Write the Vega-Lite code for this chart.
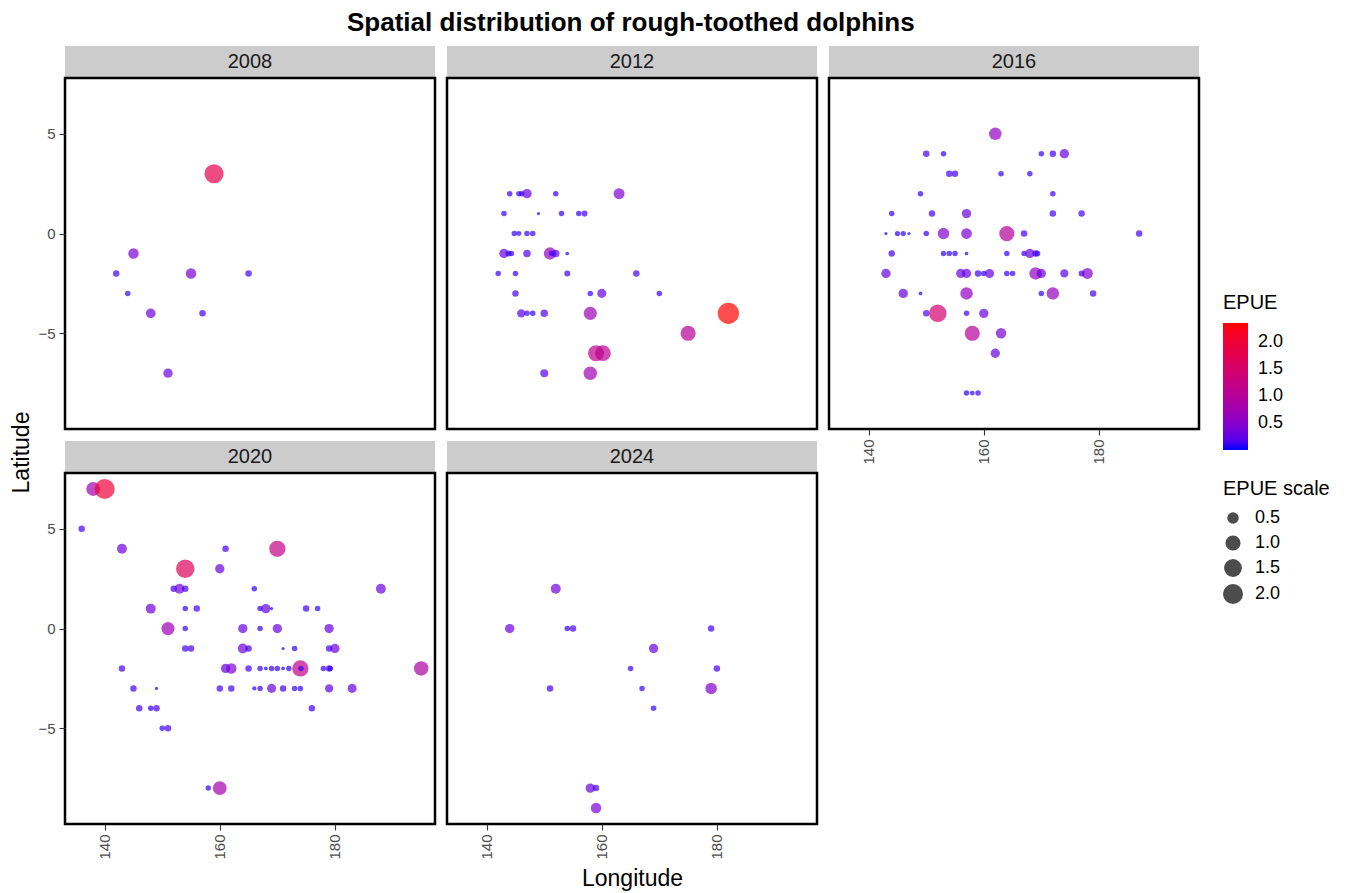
{
  "$schema": "https://vega.github.io/schema/vega-lite/v6.json",
  "padding": {"left": 9, "top": 10, "right": 5, "bottom": 5},
  "background": "white",
  "title": {"text": "Spatial distribution of rough-toothed dolphins", "fontSize": 26, "fontWeight": "bold", "anchor": "middle", "color": "black", "offset": 10, "dx": -39},
  "config": {
    "font": "Liberation Sans",
    "axis": {"domain": false, "grid": false, "tickSize": 6, "tickColor": "#333333", "tickWidth": 1.1, "labelFontSize": 15, "labelColor": "#4D4D4D", "labelPadding": 4, "titleFontSize": 23, "titleFontWeight": "normal", "titleColor": "black"},
    "legend": {"titleFontSize": 20, "titleFontWeight": "normal", "titleColor": "black", "labelFontSize": 18, "labelColor": "black"}
  },
  "datasets": {
    "strips": [{"year": "2008"}, {"year": "2012"}, {"year": "2016"}, {"year": "2020"}, {"year": "2024"}],
    "points": [
      {"year": "2008", "lon": 159, "lat": 3, "EPUE": 1.8},
      {"year": "2008", "lon": 145, "lat": -1, "EPUE": 0.4},
      {"year": "2008", "lon": 142, "lat": -2, "EPUE": 0.12},
      {"year": "2008", "lon": 155, "lat": -2, "EPUE": 0.4},
      {"year": "2008", "lon": 165, "lat": -2, "EPUE": 0.12},
      {"year": "2008", "lon": 144, "lat": -3, "EPUE": 0.08},
      {"year": "2008", "lon": 148, "lat": -4, "EPUE": 0.33},
      {"year": "2008", "lon": 157, "lat": -4, "EPUE": 0.12},
      {"year": "2008", "lon": 151, "lat": -7, "EPUE": 0.3},

      {"year": "2012", "lon": 144, "lat": 2, "EPUE": 0.08},
      {"year": "2012", "lon": 145.6, "lat": 2, "EPUE": 0.08},
      {"year": "2012", "lon": 146.1, "lat": 2, "EPUE": 0.08},
      {"year": "2012", "lon": 147, "lat": 2, "EPUE": 0.3},
      {"year": "2012", "lon": 152, "lat": 2, "EPUE": 0.08},
      {"year": "2012", "lon": 163, "lat": 2, "EPUE": 0.45},
      {"year": "2012", "lon": 143, "lat": 1, "EPUE": 0.08},
      {"year": "2012", "lon": 149, "lat": 1, "EPUE": 0.02},
      {"year": "2012", "lon": 153, "lat": 1, "EPUE": 0.08},
      {"year": "2012", "lon": 156, "lat": 1, "EPUE": 0.08},
      {"year": "2012", "lon": 157, "lat": 1, "EPUE": 0.1},
      {"year": "2012", "lon": 144.8, "lat": 0, "EPUE": 0.08},
      {"year": "2012", "lon": 145.6, "lat": 0, "EPUE": 0.06},
      {"year": "2012", "lon": 147, "lat": 0, "EPUE": 0.08},
      {"year": "2012", "lon": 148, "lat": 0, "EPUE": 0.08},
      {"year": "2012", "lon": 143, "lat": -1, "EPUE": 0.3},
      {"year": "2012", "lon": 143.8, "lat": -1, "EPUE": 0.1},
      {"year": "2012", "lon": 144.3, "lat": -1, "EPUE": 0.08},
      {"year": "2012", "lon": 147, "lat": -1, "EPUE": 0.17},
      {"year": "2012", "lon": 151, "lat": -1, "EPUE": 0.6},
      {"year": "2012", "lon": 151.3, "lat": -1, "EPUE": 0.08},
      {"year": "2012", "lon": 152, "lat": -1, "EPUE": 0.17},
      {"year": "2012", "lon": 154, "lat": -1, "EPUE": 0.03},
      {"year": "2012", "lon": 142, "lat": -2, "EPUE": 0.08},
      {"year": "2012", "lon": 145, "lat": -2, "EPUE": 0.08},
      {"year": "2012", "lon": 154, "lat": -2, "EPUE": 0.1},
      {"year": "2012", "lon": 166, "lat": -2, "EPUE": 0.12},
      {"year": "2012", "lon": 145, "lat": -3, "EPUE": 0.12},
      {"year": "2012", "lon": 158, "lat": -3, "EPUE": 0.08},
      {"year": "2012", "lon": 160, "lat": -3, "EPUE": 0.28},
      {"year": "2012", "lon": 170, "lat": -3, "EPUE": 0.08},
      {"year": "2012", "lon": 146, "lat": -4, "EPUE": 0.22},
      {"year": "2012", "lon": 147, "lat": -4, "EPUE": 0.08},
      {"year": "2012", "lon": 148, "lat": -4, "EPUE": 0.08},
      {"year": "2012", "lon": 150, "lat": -4, "EPUE": 0.17},
      {"year": "2012", "lon": 158, "lat": -4, "EPUE": 0.7},
      {"year": "2012", "lon": 182, "lat": -4, "EPUE": 2.34},
      {"year": "2012", "lon": 175, "lat": -5, "EPUE": 1.0},
      {"year": "2012", "lon": 159, "lat": -6, "EPUE": 1.15},
      {"year": "2012", "lon": 160.2, "lat": -6, "EPUE": 1.1},
      {"year": "2012", "lon": 150, "lat": -7, "EPUE": 0.2},
      {"year": "2012", "lon": 158, "lat": -7, "EPUE": 0.75},

      {"year": "2016", "lon": 162, "lat": 5, "EPUE": 0.62},
      {"year": "2016", "lon": 150, "lat": 4, "EPUE": 0.12},
      {"year": "2016", "lon": 153, "lat": 4, "EPUE": 0.08},
      {"year": "2016", "lon": 170, "lat": 4, "EPUE": 0.08},
      {"year": "2016", "lon": 172, "lat": 4, "EPUE": 0.12},
      {"year": "2016", "lon": 174, "lat": 4, "EPUE": 0.3},
      {"year": "2016", "lon": 154, "lat": 3, "EPUE": 0.12},
      {"year": "2016", "lon": 155, "lat": 3, "EPUE": 0.12},
      {"year": "2016", "lon": 163, "lat": 3, "EPUE": 0.08},
      {"year": "2016", "lon": 168, "lat": 3, "EPUE": 0.08},
      {"year": "2016", "lon": 149, "lat": 2, "EPUE": 0.08},
      {"year": "2016", "lon": 172, "lat": 2, "EPUE": 0.08},
      {"year": "2016", "lon": 144, "lat": 1, "EPUE": 0.08},
      {"year": "2016", "lon": 151, "lat": 1, "EPUE": 0.12},
      {"year": "2016", "lon": 157, "lat": 1, "EPUE": 0.3},
      {"year": "2016", "lon": 172, "lat": 1, "EPUE": 0.12},
      {"year": "2016", "lon": 177, "lat": 1, "EPUE": 0.12},
      {"year": "2016", "lon": 143, "lat": 0, "EPUE": 0.02},
      {"year": "2016", "lon": 145, "lat": 0, "EPUE": 0.07},
      {"year": "2016", "lon": 146, "lat": 0, "EPUE": 0.07},
      {"year": "2016", "lon": 147, "lat": 0, "EPUE": 0.02},
      {"year": "2016", "lon": 150, "lat": 0, "EPUE": 0.08},
      {"year": "2016", "lon": 153, "lat": 0, "EPUE": 0.5},
      {"year": "2016", "lon": 157, "lat": 0, "EPUE": 0.42},
      {"year": "2016", "lon": 164, "lat": 0, "EPUE": 1.0},
      {"year": "2016", "lon": 167, "lat": 0, "EPUE": 0.12},
      {"year": "2016", "lon": 187, "lat": 0, "EPUE": 0.12},
      {"year": "2016", "lon": 144, "lat": -1, "EPUE": 0.12},
      {"year": "2016", "lon": 153, "lat": -1, "EPUE": 0.08},
      {"year": "2016", "lon": 154, "lat": -1, "EPUE": 0.08},
      {"year": "2016", "lon": 155, "lat": -1, "EPUE": 0.08},
      {"year": "2016", "lon": 157, "lat": -1, "EPUE": 0.03},
      {"year": "2016", "lon": 164, "lat": -1, "EPUE": 0.08},
      {"year": "2016", "lon": 167, "lat": -1, "EPUE": 0.08},
      {"year": "2016", "lon": 168, "lat": -1, "EPUE": 0.3},
      {"year": "2016", "lon": 169, "lat": -1, "EPUE": 0.12},
      {"year": "2016", "lon": 169.3, "lat": -1, "EPUE": 0.1},
      {"year": "2016", "lon": 143, "lat": -2, "EPUE": 0.3},
      {"year": "2016", "lon": 156, "lat": -2, "EPUE": 0.3},
      {"year": "2016", "lon": 157, "lat": -2, "EPUE": 0.3},
      {"year": "2016", "lon": 159, "lat": -2, "EPUE": 0.12},
      {"year": "2016", "lon": 160, "lat": -2, "EPUE": 0.08},
      {"year": "2016", "lon": 161, "lat": -2, "EPUE": 0.28},
      {"year": "2016", "lon": 164, "lat": -2, "EPUE": 0.08},
      {"year": "2016", "lon": 165, "lat": -2, "EPUE": 0.08},
      {"year": "2016", "lon": 169, "lat": -2, "EPUE": 0.62},
      {"year": "2016", "lon": 170, "lat": -2, "EPUE": 0.3},
      {"year": "2016", "lon": 174, "lat": -2, "EPUE": 0.22},
      {"year": "2016", "lon": 177, "lat": -2, "EPUE": 0.1},
      {"year": "2016", "lon": 178, "lat": -2, "EPUE": 0.45},
      {"year": "2016", "lon": 146, "lat": -3, "EPUE": 0.3},
      {"year": "2016", "lon": 149, "lat": -3, "EPUE": 0.03},
      {"year": "2016", "lon": 157, "lat": -3, "EPUE": 0.62},
      {"year": "2016", "lon": 170, "lat": -3, "EPUE": 0.08},
      {"year": "2016", "lon": 172, "lat": -3, "EPUE": 0.62},
      {"year": "2016", "lon": 179, "lat": -3, "EPUE": 0.12},
      {"year": "2016", "lon": 150, "lat": -4, "EPUE": 0.12},
      {"year": "2016", "lon": 152, "lat": -4, "EPUE": 1.45},
      {"year": "2016", "lon": 157, "lat": -4, "EPUE": 0.08},
      {"year": "2016", "lon": 160, "lat": -4, "EPUE": 0.3},
      {"year": "2016", "lon": 158, "lat": -5, "EPUE": 1.0},
      {"year": "2016", "lon": 163, "lat": -5, "EPUE": 0.4},
      {"year": "2016", "lon": 162, "lat": -6, "EPUE": 0.3},
      {"year": "2016", "lon": 157, "lat": -8, "EPUE": 0.08},
      {"year": "2016", "lon": 158, "lat": -8, "EPUE": 0.06},
      {"year": "2016", "lon": 159, "lat": -8, "EPUE": 0.08},

      {"year": "2020", "lon": 138, "lat": 7, "EPUE": 0.8},
      {"year": "2020", "lon": 140, "lat": 7, "EPUE": 2.0},
      {"year": "2020", "lon": 136, "lat": 5, "EPUE": 0.12},
      {"year": "2020", "lon": 143, "lat": 4, "EPUE": 0.35},
      {"year": "2020", "lon": 161, "lat": 4, "EPUE": 0.12},
      {"year": "2020", "lon": 170, "lat": 4, "EPUE": 1.2},
      {"year": "2020", "lon": 154, "lat": 3, "EPUE": 1.65},
      {"year": "2020", "lon": 160, "lat": 3, "EPUE": 0.3},
      {"year": "2020", "lon": 152, "lat": 2, "EPUE": 0.12},
      {"year": "2020", "lon": 153, "lat": 2, "EPUE": 0.35},
      {"year": "2020", "lon": 154, "lat": 2, "EPUE": 0.12},
      {"year": "2020", "lon": 166, "lat": 2, "EPUE": 0.08},
      {"year": "2020", "lon": 188, "lat": 2, "EPUE": 0.35},
      {"year": "2020", "lon": 148, "lat": 1, "EPUE": 0.35},
      {"year": "2020", "lon": 154, "lat": 1, "EPUE": 0.08},
      {"year": "2020", "lon": 156, "lat": 1, "EPUE": 0.12},
      {"year": "2020", "lon": 167, "lat": 1, "EPUE": 0.08},
      {"year": "2020", "lon": 168, "lat": 1, "EPUE": 0.3},
      {"year": "2020", "lon": 169, "lat": 1, "EPUE": 0.02},
      {"year": "2020", "lon": 175, "lat": 1, "EPUE": 0.12},
      {"year": "2020", "lon": 177, "lat": 1, "EPUE": 0.08},
      {"year": "2020", "lon": 151, "lat": 0, "EPUE": 0.7},
      {"year": "2020", "lon": 154, "lat": 0, "EPUE": 0.08},
      {"year": "2020", "lon": 164, "lat": 0, "EPUE": 0.3},
      {"year": "2020", "lon": 167, "lat": 0, "EPUE": 0.08},
      {"year": "2020", "lon": 170, "lat": 0, "EPUE": 0.3},
      {"year": "2020", "lon": 179, "lat": 0, "EPUE": 0.3},
      {"year": "2020", "lon": 154, "lat": -1, "EPUE": 0.12},
      {"year": "2020", "lon": 155, "lat": -1, "EPUE": 0.12},
      {"year": "2020", "lon": 164, "lat": -1, "EPUE": 0.35},
      {"year": "2020", "lon": 165, "lat": -1, "EPUE": 0.12},
      {"year": "2020", "lon": 171, "lat": -1, "EPUE": 0.02},
      {"year": "2020", "lon": 173, "lat": -1, "EPUE": 0.08},
      {"year": "2020", "lon": 179, "lat": -1, "EPUE": 0.12},
      {"year": "2020", "lon": 180, "lat": -1, "EPUE": 0.3},
      {"year": "2020", "lon": 143, "lat": -2, "EPUE": 0.12},
      {"year": "2020", "lon": 161, "lat": -2, "EPUE": 0.3},
      {"year": "2020", "lon": 162, "lat": -2, "EPUE": 0.4},
      {"year": "2020", "lon": 165, "lat": -2, "EPUE": 0.12},
      {"year": "2020", "lon": 167, "lat": -2, "EPUE": 0.08},
      {"year": "2020", "lon": 168, "lat": -2, "EPUE": 0.03},
      {"year": "2020", "lon": 169, "lat": -2, "EPUE": 0.08},
      {"year": "2020", "lon": 170, "lat": -2, "EPUE": 0.08},
      {"year": "2020", "lon": 171, "lat": -2, "EPUE": 0.03},
      {"year": "2020", "lon": 172, "lat": -2, "EPUE": 0.08},
      {"year": "2020", "lon": 174, "lat": -2, "EPUE": 1.2},
      {"year": "2020", "lon": 174.1, "lat": -2, "EPUE": 0.08},
      {"year": "2020", "lon": 178, "lat": -2, "EPUE": 0.08},
      {"year": "2020", "lon": 179, "lat": -2, "EPUE": 0.12},
      {"year": "2020", "lon": 179.2, "lat": -2, "EPUE": 0.08},
      {"year": "2020", "lon": 195, "lat": -2, "EPUE": 0.9},
      {"year": "2020", "lon": 145, "lat": -3, "EPUE": 0.12},
      {"year": "2020", "lon": 149, "lat": -3, "EPUE": 0.02},
      {"year": "2020", "lon": 160, "lat": -3, "EPUE": 0.12},
      {"year": "2020", "lon": 162, "lat": -3, "EPUE": 0.12},
      {"year": "2020", "lon": 166, "lat": -3, "EPUE": 0.04},
      {"year": "2020", "lon": 167, "lat": -3, "EPUE": 0.08},
      {"year": "2020", "lon": 169, "lat": -3, "EPUE": 0.28},
      {"year": "2020", "lon": 171, "lat": -3, "EPUE": 0.12},
      {"year": "2020", "lon": 173, "lat": -3, "EPUE": 0.08},
      {"year": "2020", "lon": 174, "lat": -3, "EPUE": 0.08},
      {"year": "2020", "lon": 179, "lat": -3, "EPUE": 0.22},
      {"year": "2020", "lon": 183, "lat": -3, "EPUE": 0.28},
      {"year": "2020", "lon": 146, "lat": -4, "EPUE": 0.12},
      {"year": "2020", "lon": 148, "lat": -4, "EPUE": 0.08},
      {"year": "2020", "lon": 149, "lat": -4, "EPUE": 0.12},
      {"year": "2020", "lon": 176, "lat": -4, "EPUE": 0.12},
      {"year": "2020", "lon": 150, "lat": -5, "EPUE": 0.08},
      {"year": "2020", "lon": 151, "lat": -5, "EPUE": 0.12},
      {"year": "2020", "lon": 158, "lat": -8, "EPUE": 0.08},
      {"year": "2020", "lon": 160, "lat": -8, "EPUE": 0.8},

      {"year": "2024", "lon": 152, "lat": 2, "EPUE": 0.35},
      {"year": "2024", "lon": 144, "lat": 0, "EPUE": 0.3},
      {"year": "2024", "lon": 154, "lat": 0, "EPUE": 0.08},
      {"year": "2024", "lon": 155, "lat": 0, "EPUE": 0.12},
      {"year": "2024", "lon": 179, "lat": 0, "EPUE": 0.12},
      {"year": "2024", "lon": 169, "lat": -1, "EPUE": 0.3},
      {"year": "2024", "lon": 165, "lat": -2, "EPUE": 0.08},
      {"year": "2024", "lon": 180, "lat": -2, "EPUE": 0.12},
      {"year": "2024", "lon": 151, "lat": -3, "EPUE": 0.12},
      {"year": "2024", "lon": 167, "lat": -3, "EPUE": 0.08},
      {"year": "2024", "lon": 179, "lat": -3, "EPUE": 0.5},
      {"year": "2024", "lon": 169, "lat": -4, "EPUE": 0.08},
      {"year": "2024", "lon": 158, "lat": -8, "EPUE": 0.3},
      {"year": "2024", "lon": 159, "lat": -8, "EPUE": 0.12},
      {"year": "2024", "lon": 159, "lat": -9, "EPUE": 0.4}
    ]
  },
  "columns": 3,
  "spacing": {"row": 0, "column": 12},
  "bounds": "flush",
  "align": "each",
  "resolve": {"scale": {"color": "shared", "size": "shared"}, "legend": {"color": "shared", "size": "shared"}},
  "concat": [
    {"data": {"name": "strips"}, "transform": [{"filter": "datum.year === '2008'"}], "width": 370, "height": 32, "view": {"fill": "#CCCCCC", "stroke": null}, "mark": {"type": "text", "fontSize": 20, "color": "#1A1A1A"}, "encoding": {"text": {"field": "year"}}},
    {"data": {"name": "strips"}, "transform": [{"filter": "datum.year === '2012'"}], "width": 370, "height": 32, "view": {"fill": "#CCCCCC", "stroke": null}, "mark": {"type": "text", "fontSize": 20, "color": "#1A1A1A"}, "encoding": {"text": {"field": "year"}}},
    {"data": {"name": "strips"}, "transform": [{"filter": "datum.year === '2016'"}], "width": 370, "height": 32, "view": {"fill": "#CCCCCC", "stroke": null}, "mark": {"type": "text", "fontSize": 20, "color": "#1A1A1A"}, "encoding": {"text": {"field": "year"}}},

    {"data": {"name": "points"}, "transform": [{"filter": "datum.year === '2008'"}], "width": 370, "height": 351, "view": {"stroke": "black", "strokeWidth": 2.5, "fill": "white"},
     "mark": {"type": "circle", "fillOpacity": 0.7},
     "encoding": {
       "x": {"field": "lon", "type": "quantitative", "scale": {"domain": [133.1, 197.4], "nice": false, "zero": false}, "axis": null},
       "y": {"field": "lat", "type": "quantitative", "scale": {"domain": [-9.8, 7.8], "nice": false, "zero": false}, "axis": {"values": [-5, 0, 5], "title": "Latitude", "titleY": 374, "titlePadding": 4}},
       "color": {"field": "EPUE", "type": "quantitative", "scale": {"domain": [0.01, 2.34], "range": ["#0000FF", "#FF0000"], "interpolate": "lab"}, "legend": {"title": "EPUE", "orient": "none", "direction": "vertical", "legendX": 1158, "legendY": 247, "gradientLength": 127, "gradientThickness": 25, "values": [0.5, 1, 1.5, 2], "format": ".1f", "labelOffset": 10, "titlePadding": 10}},
       "size": {"field": "EPUE", "type": "quantitative", "scale": {"type": "pow", "exponent": 0.8, "domain": [0, 2.5], "range": [0, 478]}, "legend": {"title": "EPUE scale", "orient": "none", "legendX": 1158, "legendY": 433, "values": [0.5, 1, 1.5, 2], "format": ".1f", "symbolFillColor": "black", "symbolOpacity": 0.7, "symbolStrokeWidth": 0, "symbolType": "circle", "rowPadding": 7, "labelOffset": 12, "titlePadding": 10}}
     }},
    {"data": {"name": "points"}, "transform": [{"filter": "datum.year === '2012'"}], "width": 370, "height": 351, "view": {"stroke": "black", "strokeWidth": 2.5, "fill": "white"},
     "mark": {"type": "circle", "fillOpacity": 0.7},
     "encoding": {
       "x": {"field": "lon", "type": "quantitative", "scale": {"domain": [133.1, 197.4], "nice": false, "zero": false}, "axis": null},
       "y": {"field": "lat", "type": "quantitative", "scale": {"domain": [-9.8, 7.8], "nice": false, "zero": false}, "axis": null},
       "color": {"field": "EPUE", "type": "quantitative", "scale": {"domain": [0.01, 2.34], "range": ["#0000FF", "#FF0000"], "interpolate": "lab"}, "legend": {"title": "EPUE", "orient": "none", "direction": "vertical", "legendX": 1158, "legendY": 247, "gradientLength": 127, "gradientThickness": 25, "values": [0.5, 1, 1.5, 2], "format": ".1f", "labelOffset": 10, "titlePadding": 10}},
       "size": {"field": "EPUE", "type": "quantitative", "scale": {"type": "pow", "exponent": 0.8, "domain": [0, 2.5], "range": [0, 478]}, "legend": {"title": "EPUE scale", "orient": "none", "legendX": 1158, "legendY": 433, "values": [0.5, 1, 1.5, 2], "format": ".1f", "symbolFillColor": "black", "symbolOpacity": 0.7, "symbolStrokeWidth": 0, "symbolType": "circle", "rowPadding": 7, "labelOffset": 12, "titlePadding": 10}}
     }},
    {"data": {"name": "points"}, "transform": [{"filter": "datum.year === '2016'"}], "width": 370, "height": 351, "view": {"stroke": "black", "strokeWidth": 2.5, "fill": "white"},
     "mark": {"type": "circle", "fillOpacity": 0.7},
     "encoding": {
       "x": {"field": "lon", "type": "quantitative", "scale": {"domain": [133.1, 197.4], "nice": false, "zero": false}, "axis": {"values": [140, 160, 180], "labelAngle": -90, "title": null}},
       "y": {"field": "lat", "type": "quantitative", "scale": {"domain": [-9.8, 7.8], "nice": false, "zero": false}, "axis": null},
       "color": {"field": "EPUE", "type": "quantitative", "scale": {"domain": [0.01, 2.34], "range": ["#0000FF", "#FF0000"], "interpolate": "lab"}, "legend": {"title": "EPUE", "orient": "none", "direction": "vertical", "legendX": 1158, "legendY": 247, "gradientLength": 127, "gradientThickness": 25, "values": [0.5, 1, 1.5, 2], "format": ".1f", "labelOffset": 10, "titlePadding": 10}},
       "size": {"field": "EPUE", "type": "quantitative", "scale": {"type": "pow", "exponent": 0.8, "domain": [0, 2.5], "range": [0, 478]}, "legend": {"title": "EPUE scale", "orient": "none", "legendX": 1158, "legendY": 433, "values": [0.5, 1, 1.5, 2], "format": ".1f", "symbolFillColor": "black", "symbolOpacity": 0.7, "symbolStrokeWidth": 0, "symbolType": "circle", "rowPadding": 7, "labelOffset": 12, "titlePadding": 10}}
     }},

    {"data": {"name": "strips"}, "transform": [{"filter": "false"}], "width": 370, "height": 12, "view": {"stroke": null}, "mark": "point", "encoding": {}},
    {"data": {"name": "strips"}, "transform": [{"filter": "false"}], "width": 370, "height": 12, "view": {"stroke": null}, "mark": "point", "encoding": {}},
    {"data": {"name": "strips"}, "transform": [{"filter": "false"}], "width": 370, "height": 12, "view": {"stroke": null}, "mark": "point", "encoding": {}},

    {"data": {"name": "strips"}, "transform": [{"filter": "datum.year === '2020'"}], "width": 370, "height": 32, "view": {"fill": "#CCCCCC", "stroke": null}, "mark": {"type": "text", "fontSize": 20, "color": "#1A1A1A"}, "encoding": {"text": {"field": "year"}}},
    {"data": {"name": "strips"}, "transform": [{"filter": "datum.year === '2024'"}], "width": 370, "height": 32, "view": {"fill": "#CCCCCC", "stroke": null}, "mark": {"type": "text", "fontSize": 20, "color": "#1A1A1A"}, "encoding": {"text": {"field": "year"}}},
    {"data": {"name": "strips"}, "transform": [{"filter": "false"}], "width": 370, "height": 32, "view": {"stroke": null}, "mark": "point", "encoding": {}},

    {"data": {"name": "points"}, "transform": [{"filter": "datum.year === '2020'"}], "width": 370, "height": 351, "view": {"stroke": "black", "strokeWidth": 2.5, "fill": "white"},
     "mark": {"type": "circle", "fillOpacity": 0.7},
     "encoding": {
       "x": {"field": "lon", "type": "quantitative", "scale": {"domain": [133.1, 197.4], "nice": false, "zero": false}, "axis": {"values": [140, 160, 180], "labelAngle": -90, "title": null}},
       "y": {"field": "lat", "type": "quantitative", "scale": {"domain": [-9.8, 7.8], "nice": false, "zero": false}, "axis": {"values": [-5, 0, 5], "title": null}},
       "color": {"field": "EPUE", "type": "quantitative", "scale": {"domain": [0.01, 2.34], "range": ["#0000FF", "#FF0000"], "interpolate": "lab"}, "legend": {"title": "EPUE", "orient": "none", "direction": "vertical", "legendX": 1158, "legendY": 247, "gradientLength": 127, "gradientThickness": 25, "values": [0.5, 1, 1.5, 2], "format": ".1f", "labelOffset": 10, "titlePadding": 10}},
       "size": {"field": "EPUE", "type": "quantitative", "scale": {"type": "pow", "exponent": 0.8, "domain": [0, 2.5], "range": [0, 478]}, "legend": {"title": "EPUE scale", "orient": "none", "legendX": 1158, "legendY": 433, "values": [0.5, 1, 1.5, 2], "format": ".1f", "symbolFillColor": "black", "symbolOpacity": 0.7, "symbolStrokeWidth": 0, "symbolType": "circle", "rowPadding": 7, "labelOffset": 12, "titlePadding": 10}}
     }},
    {"data": {"name": "points"}, "transform": [{"filter": "datum.year === '2024'"}], "width": 370, "height": 351, "view": {"stroke": "black", "strokeWidth": 2.5, "fill": "white"},
     "mark": {"type": "circle", "fillOpacity": 0.7},
     "encoding": {
       "x": {"field": "lon", "type": "quantitative", "scale": {"domain": [133.1, 197.4], "nice": false, "zero": false}, "axis": {"values": [140, 160, 180], "labelAngle": -90, "title": "Longitude", "titlePadding": 8}},
       "y": {"field": "lat", "type": "quantitative", "scale": {"domain": [-9.8, 7.8], "nice": false, "zero": false}, "axis": null},
       "color": {"field": "EPUE", "type": "quantitative", "scale": {"domain": [0.01, 2.34], "range": ["#0000FF", "#FF0000"], "interpolate": "lab"}, "legend": {"title": "EPUE", "orient": "none", "direction": "vertical", "legendX": 1158, "legendY": 247, "gradientLength": 127, "gradientThickness": 25, "values": [0.5, 1, 1.5, 2], "format": ".1f", "labelOffset": 10, "titlePadding": 10}},
       "size": {"field": "EPUE", "type": "quantitative", "scale": {"type": "pow", "exponent": 0.8, "domain": [0, 2.5], "range": [0, 478]}, "legend": {"title": "EPUE scale", "orient": "none", "legendX": 1158, "legendY": 433, "values": [0.5, 1, 1.5, 2], "format": ".1f", "symbolFillColor": "black", "symbolOpacity": 0.7, "symbolStrokeWidth": 0, "symbolType": "circle", "rowPadding": 7, "labelOffset": 12, "titlePadding": 10}}
     }}
  ]
}
